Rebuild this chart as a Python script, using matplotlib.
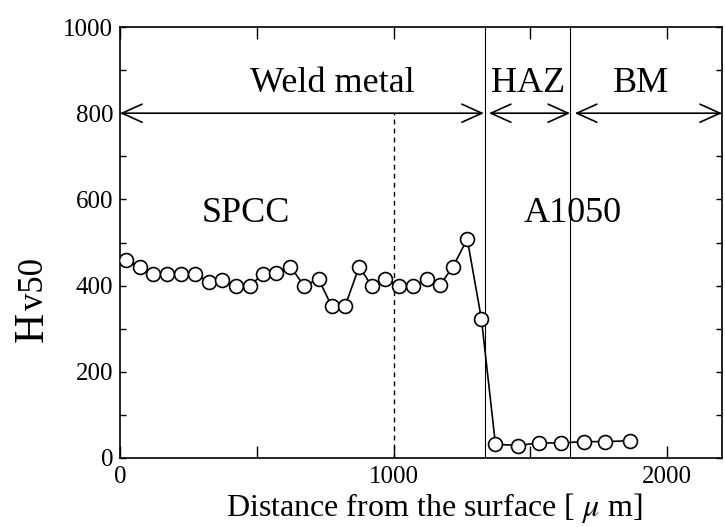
import matplotlib
matplotlib.use("Agg")
import matplotlib.pyplot as plt
from matplotlib.ticker import MultipleLocator, FixedLocator

# hardness profile
dist = [22, 73, 121, 172, 222, 274, 324, 374, 423, 474, 522, 571, 623, 672,
        726, 773, 823, 874, 920, 969, 1020, 1071, 1121, 1169, 1217, 1269, 1321,
        1372, 1454, 1530, 1612, 1696, 1773, 1862]
hv50 = [459, 442, 427, 427, 428, 428, 408, 413, 399, 398, 428, 430, 444, 400,
        415, 353, 353, 444, 399, 415, 399, 399, 415, 401, 444, 508, 322,
        32, 29, 35, 35, 38, 38, 40]

# zone boundaries and labels
haz_start = 1335
bm_start = 1645
center_line = 1000
zones = ["Weld metal", "HAZ", "BM"]
zone_x = [776, 1490, 1905]
zone_span = [(0, 1330), (1348, 1645), (1662, 2200)]
materials = ["SPCC", "A1050"]
material_x = [459, 1654]

plt.rcParams['font.family'] = ['Liberation Serif', 'DejaVu Serif']
plt.rcParams['mathtext.fontset'] = 'stix'

fig = plt.figure(figsize=(7.25, 5.27), dpi=100)
ax = fig.add_axes([120/725, 1-458/527, 602/725, 431/527])

ax.plot(dist, hv50, '-', color='k', lw=1.2, marker='o', ms=10,
        mfc='white', mec='k', mew=1.2, zorder=3)

ax.axvline(haz_start, color='k', lw=0.8)
ax.axvline(bm_start, color='k', lw=0.8)
ax.plot([center_line, center_line], [0, 800], color='k', lw=1.0,
        linestyle=(0, (3.5, 3)))

for (x0, x1) in zone_span:
    ax.annotate('', xy=(x0, 800), xytext=(x1, 800),
                arrowprops=dict(arrowstyle='<->, head_length=1.44, head_width=0.65',
                                lw=1.2, color='k', shrinkA=0, shrinkB=0,
                                mutation_scale=10))
for name, x in zip(zones, zone_x):
    ax.text(x, 849, name, ha='center', va='baseline', fontsize=26)
for name, x in zip(materials, material_x):
    ax.text(x, 548, name, ha='center', va='baseline', fontsize=26)

ax.set_xlim(0, 2200)
ax.set_ylim(0, 1000)
ax.xaxis.set_major_locator(FixedLocator([0, 1000, 2000]))
ax.xaxis.set_minor_locator(FixedLocator([500, 1500]))
ax.yaxis.set_major_locator(MultipleLocator(200))
ax.yaxis.set_minor_locator(MultipleLocator(100))
ax.tick_params(axis='both', which='both', direction='in', top=True, right=True,
               labelsize=18, width=1.0)
ax.tick_params(axis='x', which='both', length=8.5, pad=6)
ax.tick_params(axis='y', which='both', length=4.5, pad=5)
for s in ax.spines.values():
    s.set_linewidth(1.2)

fig.text(434/725, 1-516/527, r'Distance from the surface [ $\mu$ m]',
         ha='center', va='baseline', fontsize=23)

# y label: large H followed by smaller "v50" on the same baseline
fig.text(43/725, 1-342/527, 'H', rotation=90, rotation_mode='anchor',
         ha='left', va='baseline', fontsize=30)
fig.text(43/725, 1-310/527, 'v50', rotation=90, rotation_mode='anchor',
         ha='left', va='baseline', fontsize=25)

fig.savefig('out.png', dpi=100)
